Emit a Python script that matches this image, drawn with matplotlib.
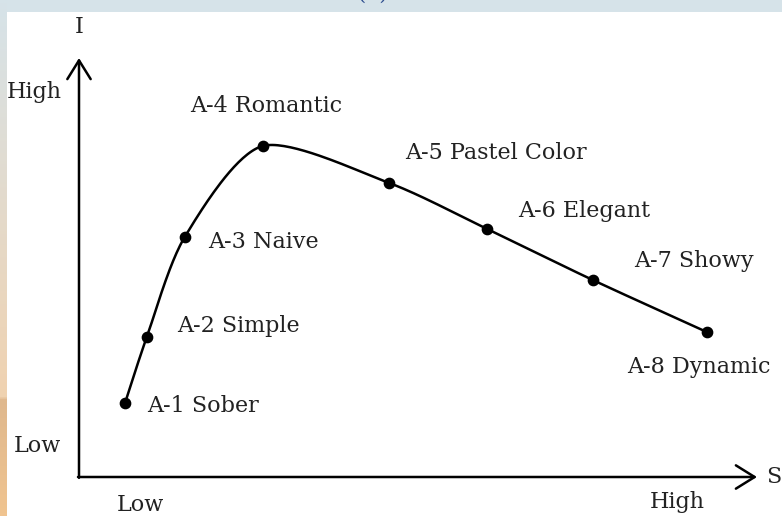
import numpy as np
import matplotlib.pyplot as plt
from matplotlib.colors import LinearSegmentedColormap

# image scale positions: S (soft/hard) on x, I on y, both read on a 0-10 scale
labels = ['A-1 Sober', 'A-2 Simple', 'A-3 Naive', 'A-4 Romantic',
          'A-5 Pastel Color', 'A-6 Elegant', 'A-7 Showy', 'A-8 Dynamic']
s_vals = [0.68, 1.00, 1.56, 2.71, 4.57, 6.02, 7.58, 9.26]
i_vals = [1.77, 3.34, 5.73, 7.90, 7.02, 5.92, 4.70, 3.46]

# label offsets in pixels (dx, dy) relative to each point
label_offsets = [(22, -3), (30, 11), (23, -5), (-73, 40),
                 (16, 30), (31, 18), (41, 19), (-80, -35)]

plt.rcParams['font.family'] = ['DejaVu Serif']

fig = plt.figure(figsize=(7.82, 5.16), dpi=100)
fig.patch.set_facecolor('white')

# slide background: top band and left gradient strip
top = fig.add_axes([0, 1 - 12 / 516, 1, 12 / 516])
top.set_facecolor('#d6e3e9')
top.set_xticks([])
top.set_yticks([])
for sp in top.spines.values():
    sp.set_visible(False)

strip = fig.add_axes([0, 0, 7 / 782, 1])
cmap = LinearSegmentedColormap.from_list(
    'slide', [(0, '#d6e3e9'), (0.77, '#f0d2b0'), (0.775, '#dfb88d'), (1, '#f0c490')])
grad = np.linspace(0, 1, 300).reshape(-1, 1)
strip.imshow(grad, aspect='auto', cmap=cmap, extent=[0, 1, 0, 1], origin='upper')
strip.axis('off')

# cut-off blue title fragment at the very top
fig.text(373 / 782, 1 + 6 / 516, '(  )', color='#2f4f8f', fontsize=15,
         ha='center', va='center')

ax = fig.add_axes([79 / 782, 39 / 516, 678 / 782, 419 / 516])
ax.set_xlim(0, 10)
ax.set_ylim(0, 10)
ax.axis('off')


def cardinal(xs, ys, tension=0.2, n=40):
    px = np.array([xs[0]] + list(xs) + [xs[-1]])
    py = np.array([ys[0]] + list(ys) + [ys[-1]])
    t = np.linspace(0, 1, n)
    h00 = 2 * t ** 3 - 3 * t ** 2 + 1
    h10 = t ** 3 - 2 * t ** 2 + t
    h01 = -2 * t ** 3 + 3 * t ** 2
    h11 = t ** 3 - t ** 2
    out_x, out_y = [], []
    for k in range(1, len(px) - 2):
        for arr, out in ((px, out_x), (py, out_y)):
            m1 = (1 - tension) * (arr[k + 1] - arr[k - 1]) / 2
            m2 = (1 - tension) * (arr[k + 2] - arr[k]) / 2
            out.extend(h00 * arr[k] + h10 * m1 + h01 * arr[k + 1] + h11 * m2)
    return np.array(out_x), np.array(out_y)


# scale so the curve is smoothed in screen proportions
sx, sy = 67.8, 41.9
cx, cy = cardinal(np.array(s_vals) * sx, np.array(i_vals) * sy)
ax.plot(cx / sx, cy / sy, color='black', lw=1.8, clip_on=False)
ax.scatter(s_vals, i_vals, s=55, color='black', zorder=3, clip_on=False)

fs = 16
tc = '#222222'
for lab, x, y, off in zip(labels, s_vals, i_vals, label_offsets):
    ax.annotate(lab, (x, y), xytext=off, textcoords='offset pixels',
                ha='left', va='center', fontsize=fs, color=tc)

# axes as arrows
arrow = dict(arrowstyle='->,head_length=0.45,head_width=0.28', lw=1.8,
             color='black', mutation_scale=30, shrinkA=0, shrinkB=0)
ax.annotate('', xy=(0, 10), xytext=(0, -0.02), arrowprops=arrow,
            annotation_clip=False)
ax.annotate('', xy=(10, 0), xytext=(-0.015, 0), arrowprops=arrow,
            annotation_clip=False)

ax.text(0, 10.74, 'I', ha='center', va='center', fontsize=fs, color=tc)
ax.text(10.13, 0, 'S', ha='left', va='center', fontsize=fs, color=tc)
ax.text(-0.25, 9.19, 'High', ha='right', va='center', fontsize=fs, color=tc)
ax.text(-0.27, 0.74, 'Low', ha='right', va='center', fontsize=fs, color=tc)
ax.text(0.9, -0.67, 'Low', ha='center', va='center', fontsize=fs, color=tc)
ax.text(8.83, -0.6, 'High', ha='center', va='center', fontsize=fs, color=tc)

fig.savefig('out.png', dpi=100)
